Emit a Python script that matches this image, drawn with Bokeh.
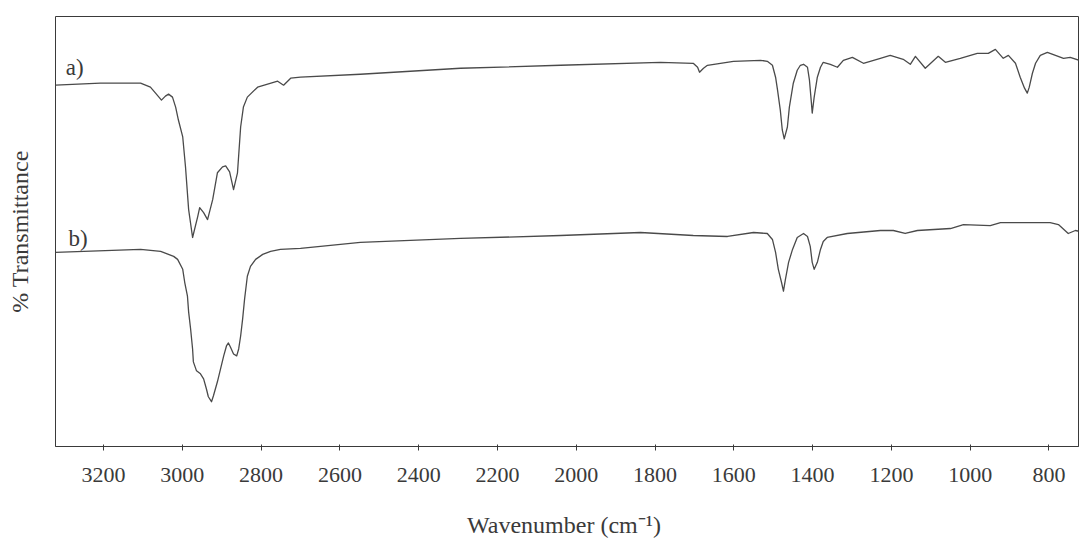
from bokeh.plotting import figure
from bokeh.models import Range1d, FixedTicker, Label
from bokeh.embed import file_html
from bokeh.resources import INLINE

# ---- data (wavenumber cm-1, relative transmittance) ----
wn_a = [3322, 3208, 3106, 3081, 3068, 3053, 3043, 3035, 3025, 3017, 3010, 2999,
        2992, 2984, 2974, 2961, 2956, 2946, 2936, 2923, 2911, 2898, 2890, 2880,
        2870, 2860, 2852, 2845, 2835, 2809, 2758, 2743, 2725, 2700, 2548, 2294,
        2040, 1786, 1703, 1692, 1687, 1677, 1667, 1601, 1532, 1515, 1502, 1494,
        1489, 1482, 1477, 1472, 1464, 1459, 1449, 1439, 1431, 1423, 1413, 1408,
        1403, 1401, 1396, 1388, 1380, 1373, 1355, 1337, 1322, 1299, 1271, 1228,
        1203, 1170, 1152, 1139, 1114, 1081, 1063, 1025, 982, 954, 936, 916,
        903, 885, 873, 862, 855, 850, 842, 834, 822, 804, 763, 746, 723]
t_a = [363, 365, 365, 361, 355, 348, 352, 354, 351, 341, 328, 311,
       281, 238, 210, 231, 240, 235, 228, 248, 275, 281, 282, 276,
       258, 275, 321, 341, 351, 361, 367, 363, 370, 371, 374, 380,
       383, 386, 385, 381, 376, 380, 383, 387, 388, 387, 383, 371,
       358, 338, 318, 309, 321, 341, 365, 378, 383, 384, 381, 368,
       345, 335, 351, 371, 381, 386, 384, 381, 388, 391, 385, 390,
       393, 389, 384, 392, 380, 392, 386, 390, 395, 395, 399, 390,
       393, 385, 371, 360, 355, 361, 375, 385, 393, 396, 390, 391, 388]

wn_b = [3322, 3106, 3055, 3022, 3012, 2999, 2994, 2987, 2984, 2979, 2974, 2972,
        2964, 2954, 2946, 2939, 2934, 2926, 2921, 2911, 2903, 2895, 2888, 2883,
        2878, 2870, 2862, 2857, 2852, 2847, 2842, 2835, 2827, 2814, 2796, 2776,
        2751, 2700, 2548, 2294, 2040, 1837, 1703, 1616, 1550, 1515, 1502, 1494,
        1487, 1479, 1474, 1469, 1461, 1451, 1439, 1423, 1413, 1406, 1401, 1396,
        1388, 1380, 1373, 1363, 1312, 1228, 1195, 1165, 1134, 1050, 1017, 949,
        923, 865, 797, 776, 751, 733, 720]
t_b = [195, 198, 196, 191, 188, 178, 165, 151, 135, 118, 98, 85,
       76, 73, 68, 58, 50, 45, 51, 65, 78, 91, 101, 104,
       100, 93, 91, 98, 111, 128, 148, 171, 181, 188, 193, 196,
       198, 199, 205, 209, 212, 215, 212, 211, 215, 214, 208, 195,
       178, 165, 156, 168, 185, 198, 210, 214, 211, 201, 185, 178,
       185, 198, 206, 210, 214, 217, 217, 214, 217, 219, 223, 222,
       225, 225, 225, 223, 214, 217, 216]

tick_values = [3200, 3000, 2800, 2600, 2400, 2200, 2000, 1800, 1600, 1400, 1200, 1000, 800]
series_labels = ["a)", "b)"]
label_pos_wn = [3296, 3289]
label_pos_t = [381, 209]

FONT = "Liberation Serif"
INK = "#3a3a3a"

p = figure(width=1080, height=540, output_backend="svg", toolbar_location=None,
           x_range=Range1d(3322, 725), y_range=Range1d(0, 432),
           min_border_left=55, min_border_right=2, min_border_top=16,
           min_border_bottom=92)

p.background_fill_color = "white"
p.border_fill_color = "white"
p.outline_line_color = INK
p.outline_line_width = 1
p.xgrid.visible = False
p.ygrid.visible = False

p.line(wn_a, t_a, line_color="#4a4a4a", line_width=1.3, line_join="round")
p.line(wn_b, t_b, line_color="#4a4a4a", line_width=1.3, line_join="round")

for txt, xw, yt in zip(series_labels, label_pos_wn, label_pos_t):
    p.add_layout(Label(x=xw, y=yt, text=txt, text_font=FONT, text_font_size="23px",
                       text_color=INK, text_baseline="middle", text_align="left"))

xa = p.xaxis[0]
xa.ticker = FixedTicker(ticks=tick_values)
xa.minor_tick_line_color = None
xa.major_tick_in = 2
xa.major_tick_out = 4
xa.major_tick_line_color = INK
xa.axis_line_color = INK
xa.major_label_text_font = FONT
xa.major_label_text_font_size = "22px"
xa.major_label_text_color = INK
xa.major_label_standoff = 17
xa.axis_label = "Wavenumber  (cm\u207b\u00b9)"
xa.axis_label_text_font = FONT
xa.axis_label_text_font_size = "24px"
xa.axis_label_text_font_style = "normal"
xa.axis_label_text_color = INK
xa.axis_label_standoff = 27

ya = p.yaxis[0]
ya.ticker = FixedTicker(ticks=[])
ya.major_tick_line_color = None
ya.minor_tick_line_color = None
ya.axis_line_color = None
ya.major_label_text_font_size = "0px"
ya.axis_label = "% Transmittance"
ya.axis_label_text_font = FONT
ya.axis_label_text_font_size = "24px"
ya.axis_label_text_font_style = "normal"
ya.axis_label_text_color = INK
ya.axis_label_standoff = 23

open("out.html", "w").write(file_html(p, INLINE))
